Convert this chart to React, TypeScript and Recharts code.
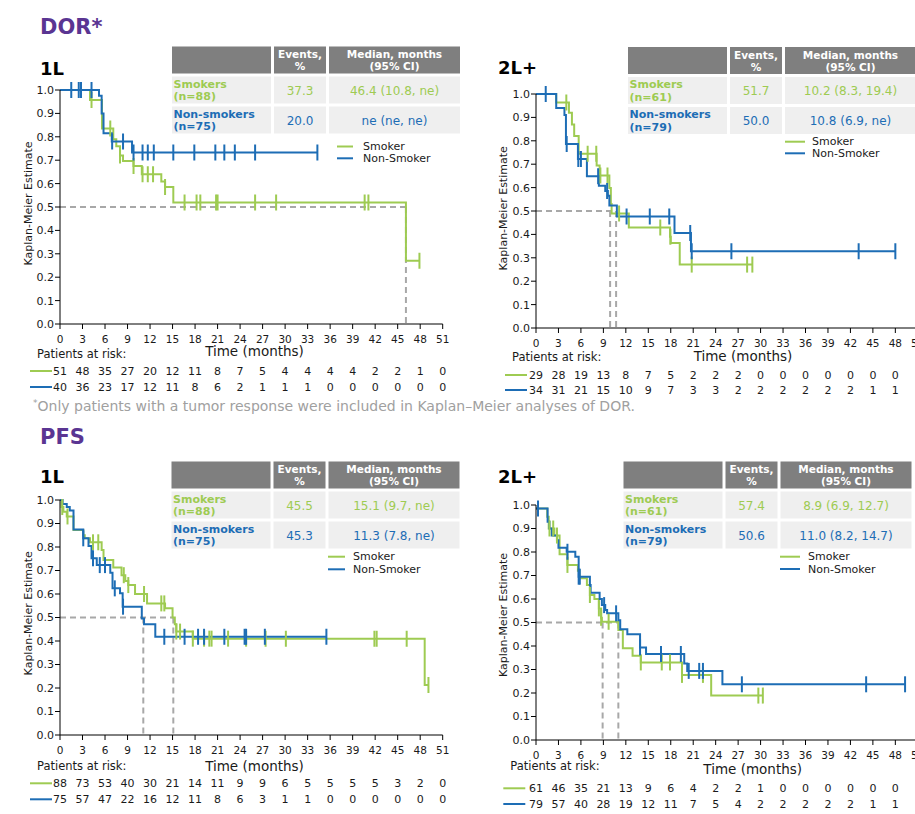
import { ComposedChart, Line, Scatter, XAxis, YAxis } from "recharts";

const GREEN = "#9ecb52";
const BLUE = "#1d6db5";
const PURPLE = "#5a3592";
const DASH = "#a8a8a8";
const INK = "#1a1a1a";
const FONT = "'DejaVu Sans', Verdana, sans-serif";

const X_TICKS = [0, 3, 6, 9, 12, 15, 18, 21, 24, 27, 30, 33, 36, 39, 42, 45, 48, 51];
const Y_TICKS = [0, 0.1, 0.2, 0.3, 0.4, 0.5, 0.6, 0.7, 0.8, 0.9, 1.0];

// DOR, 1L  (time in months, KM estimate)
const dor1lSmoker = [[0, 1], [4.0, 0.957], [5.6, 0.836], [7.1, 0.79], [7.5, 0.76], [8.0, 0.72], [8.4, 0.697], [9.8, 0.675], [10.9, 0.64], [13.5, 0.609], [14.0, 0.585], [15.1, 0.519], [46.1, 0.27], [47.9, 0.27]];
const dor1lSmokerCens = [4.2, 6.7, 8.0, 9.8, 11.0, 11.7, 12.4, 14.0, 16.6, 18.2, 18.7, 20.8, 21.0, 26.0, 28.8, 40.6, 41.1, 47.9];
const dor1lNon = [[0, 1], [5.2, 0.975], [5.55, 0.9], [5.8, 0.815], [6.9, 0.78], [9.6, 0.733], [34.3, 0.733]];
const dor1lNonCens = [1.5, 2.5, 2.8, 4.2, 6.95, 8.4, 9.8, 11.0, 11.7, 12.5, 15.1, 17.9, 20.7, 21.9, 23.3, 26.0, 34.3];
const dor1lMedians = [46.1];
const dor1lRiskSmoker = [51, 48, 35, 27, 20, 12, 11, 8, 7, 5, 4, 4, 4, 4, 2, 2, 1, 0];
const dor1lRiskNon = [40, 36, 23, 17, 12, 11, 8, 6, 2, 1, 1, 1, 0, 0, 0, 0, 0, 0];
const dor1lN = ["88", "75"];
const dor1lEvents = ["37.3", "20.0"];
const dor1lMedianText = ["46.4 (10.8, ne)", "ne (ne, ne)"];

// DOR, 2L+
const dor2lSmoker = [[0, 1], [2.7, 0.964], [4.4, 0.92], [4.8, 0.87], [5.1, 0.82], [5.7, 0.745], [8.1, 0.694], [8.5, 0.652], [9.8, 0.598], [10.0, 0.53], [10.1, 0.489], [12.4, 0.43], [17.9, 0.39], [18.0, 0.363], [19.2, 0.271], [28.9, 0.271]];
const dor2lSmokerCens = [4.05, 6.9, 8.05, 8.6, 9.55, 11.1, 16.6, 17.95, 20.8, 28.2, 28.9];
const dor2lNon = [[0, 1], [2.7, 0.94], [3.8, 0.91], [4.0, 0.786], [5.6, 0.722], [6.8, 0.648], [8.4, 0.608], [9.25, 0.585], [9.6, 0.565], [9.8, 0.523], [10.8, 0.477], [18.5, 0.406], [20.7, 0.328], [48.0, 0.328]];
const dor2lNonCens = [1.3, 4.1, 5.65, 6.0, 8.3, 9.5, 12.1, 15.2, 17.8, 20.6, 20.8, 26.1, 43.1, 48.0];
const dor2lMedians = [9.9, 10.7];
const dor2lRiskSmoker = [29, 28, 19, 13, 8, 7, 5, 2, 2, 2, 0, 0, 0, 0, 0, 0, 0];
const dor2lRiskNon = [34, 31, 21, 15, 10, 9, 7, 3, 3, 2, 2, 2, 2, 2, 2, 1, 1];
const dor2lN = ["61", "79"];
const dor2lEvents = ["51.7", "50.0"];
const dor2lMedianText = ["10.2 (8.3, 19.4)", "10.8 (6.9, ne)"];

// PFS, 1L
const pfs1lSmoker = [[0, 1], [0.2, 0.97], [0.45, 0.95], [0.9, 0.93], [1.8, 0.872], [3.1, 0.85], [3.3, 0.837], [4.0, 0.82], [5.55, 0.787], [5.8, 0.745], [7.1, 0.713], [8.2, 0.68], [8.7, 0.655], [9.1, 0.638], [10.0, 0.6], [11.6, 0.56], [14.0, 0.539], [15.0, 0.5], [15.3, 0.471], [15.5, 0.44], [17.7, 0.41], [48.6, 0.213], [49.1, 0.213]];
const pfs1lSmokerCens = [0.3, 1.0, 4.4, 5.1, 8.5, 9.1, 11.2, 13.5, 13.9, 15.5, 16.0, 17.7, 19.2, 19.9, 20.2, 22.4, 24.8, 27.4, 30.1, 41.9, 42.2, 46.2, 49.1];
const pfs1lNon = [[0, 1], [0.35, 0.983], [0.9, 0.97], [1.3, 0.955], [1.8, 0.875], [3.1, 0.837], [3.8, 0.804], [4.2, 0.752], [4.9, 0.723], [6.7, 0.69], [7.0, 0.624], [8.0, 0.603], [8.35, 0.546], [10.9, 0.496], [11.2, 0.471], [12.7, 0.418], [35.5, 0.418]];
const pfs1lNonCens = [3.1, 4.4, 5.3, 6.0, 7.3, 8.4, 13.9, 16.6, 18.4, 19.2, 21.9, 24.6, 24.8, 27.3, 35.5];
const pfs1lMedians = [11.1, 15.1];
const pfs1lRiskSmoker = [88, 73, 53, 40, 30, 21, 14, 11, 9, 9, 6, 5, 5, 5, 5, 3, 2, 0];
const pfs1lRiskNon = [75, 57, 47, 22, 16, 12, 11, 8, 6, 3, 1, 1, 0, 0, 0, 0, 0, 0];
const pfs1lN = ["88", "75"];
const pfs1lEvents = ["45.5", "45.3"];
const pfs1lMedianText = ["15.1 (9.7, ne)", "11.3 (7.8, ne)"];

// PFS, 2L+
const pfs2lSmoker = [[0, 0.985], [1.5, 0.95], [1.7, 0.9], [2.45, 0.87], [3.15, 0.79], [4.2, 0.745], [5.6, 0.72], [5.8, 0.688], [6.8, 0.66], [7.2, 0.617], [7.8, 0.6], [8.4, 0.56], [8.7, 0.52], [8.8, 0.503], [11.0, 0.468], [11.6, 0.39], [12.9, 0.359], [14.0, 0.33], [19.5, 0.277], [23.4, 0.189], [30.3, 0.189]];
const pfs2lSmokerCens = [1.8, 2.3, 2.8, 4.2, 7.2, 8.4, 8.7, 9.7, 14.0, 16.8, 17.9, 19.5, 22.3, 29.7, 30.3];
const pfs2lNon = [[0, 0.985], [1.55, 0.929], [1.8, 0.9], [2.1, 0.87], [2.8, 0.85], [3.0, 0.818], [4.1, 0.801], [5.25, 0.78], [5.7, 0.695], [7.2, 0.66], [7.3, 0.627], [8.5, 0.6], [8.8, 0.574], [9.25, 0.553], [9.5, 0.539], [11.0, 0.51], [11.25, 0.471], [12.2, 0.45], [13.9, 0.394], [14.7, 0.366], [19.8, 0.326], [20.2, 0.294], [24.9, 0.237], [49.3, 0.237]];
const pfs2lNonCens = [0.27, 4.2, 5.7, 5.85, 9.1, 10.7, 13.9, 16.7, 19.35, 20.4, 21.8, 22.3, 27.5, 44.1, 49.3];
const pfs2lMedians = [8.9, 11.0];
const pfs2lRiskSmoker = [61, 46, 35, 21, 13, 9, 6, 4, 2, 2, 1, 0, 0, 0, 0, 0, 0];
const pfs2lRiskNon = [79, 57, 40, 28, 19, 12, 11, 7, 5, 4, 2, 2, 2, 2, 2, 1, 1];
const pfs2lN = ["61", "79"];
const pfs2lEvents = ["57.4", "50.6"];
const pfs2lMedianText = ["8.9 (6.9, 12.7)", "11.0 (8.2, 14.7)"];

const toPts = (steps) => steps.map(([t, s]) => ({ t, s }));

function survAt(steps, t) {
  let s = steps[0][1];
  for (const [x, y] of steps) if (x <= t) s = y;
  return s;
}

const censPts = (steps, times) => times.map((t) => ({ t, s: survAt(steps, t) }));

function tickMark(color) {
  return (p) => (
    <line x1={p.cx} x2={p.cx} y1={p.cy - 8} y2={p.cy + 8} stroke={color} strokeWidth={2} />
  );
}

function RiskTick(props) {
  const { x, y, payload, rows, offs } = props;
  const i = X_TICKS.indexOf(payload.value);
  const base = y - 5;
  return (
    <g fontFamily={FONT} fill={INK}>
      <text x={x} y={base + 14.5} textAnchor="middle" dominantBaseline="central" fontSize={10.5}>
        {payload.value}
      </text>
      {rows.map((r, k) =>
        i < r.length ? (
          <text key={k} x={x} y={base + offs[k]} textAnchor="middle" dominantBaseline="central" fontSize={11}>
            {r[i]}
          </text>
        ) : null
      )}
    </g>
  );
}

function KMChart({ left, top, height, right, smoker, smokerCens, non, nonCens, medians, risk, offs }) {
  const maxMed = Math.max(...medians);
  return (
    <div style={{ position: "absolute", left, top }}>
      <ComposedChart width={460} height={height} margin={{ top: 10, right, bottom: 4, left: 15 }}>
        <XAxis
          type="number"
          dataKey="t"
          domain={[0, 51]}
          ticks={X_TICKS}
          interval={0}
          allowDataOverflow
          height={70}
          tickSize={5}
          tickMargin={0}
          axisLine={{ stroke: "#000" }}
          tickLine={{ stroke: "#000" }}
          tick={(p) => <RiskTick {...p} rows={risk} offs={offs} />}
        />
        <YAxis
          type="number"
          dataKey="s"
          domain={[0, 1]}
          ticks={Y_TICKS}
          interval={0}
          width={45}
          tickSize={5}
          tickMargin={1}
          tickFormatter={(v) => v.toFixed(1)}
          axisLine={{ stroke: "#000" }}
          tickLine={{ stroke: "#000" }}
          tick={{ fill: INK, fontSize: 11, fontFamily: FONT }}
        />
        <Line
          data={[{ t: 0, s: 0.5 }, { t: maxMed, s: 0.5 }]}
          dataKey="s"
          type="linear"
          stroke={DASH}
          strokeWidth={2}
          strokeDasharray="6 4"
          dot={false}
          activeDot={false}
          isAnimationActive={false}
        />
        {medians.map((m) => (
          <Line
            key={"m" + m}
            data={[{ t: m, s: 0.5 }, { t: m, s: 0 }]}
            dataKey="s"
            type="linear"
            stroke={DASH}
            strokeWidth={2}
            strokeDasharray="6 4"
            dot={false}
            activeDot={false}
            isAnimationActive={false}
          />
        ))}
        <Line data={toPts(smoker)} dataKey="s" type="stepAfter" stroke={GREEN} strokeWidth={2} dot={false} activeDot={false} isAnimationActive={false} />
        <Scatter data={censPts(smoker, smokerCens)} dataKey="s" shape={tickMark(GREEN)} isAnimationActive={false} />
        <Line data={toPts(non)} dataKey="s" type="stepAfter" stroke={BLUE} strokeWidth={2} dot={false} activeDot={false} isAnimationActive={false} />
        <Scatter data={censPts(non, nonCens)} dataKey="s" shape={tickMark(BLUE)} isAnimationActive={false} />
      </ComposedChart>
    </div>
  );
}

function StatTable({ x, y, n, events, medians }) {
  const cw = [99, 52, 131];
  const gap = 3;
  const h = 27;
  const cx = [x, x + cw[0] + gap, x + cw[0] + cw[1] + 2 * gap];
  const mid = (i) => cx[i] + cw[i] / 2;
  const colors = [GREEN, BLUE];
  const labels = ["Smokers", "Non-smokers"];
  return (
    <g fontFamily={FONT}>
      {cw.map((w, i) => (
        <rect key={i} x={cx[i]} y={y} width={w} height={h} fill="#7f7f7f" />
      ))}
      <g fill="#fff" fontWeight="bold" fontSize={10.5} textAnchor="middle">
        <text x={mid(1)} y={y + 11.5}>Events,</text>
        <text x={mid(1)} y={y + 23.5}>%</text>
        <text x={mid(2)} y={y + 11.5}>Median, months</text>
        <text x={mid(2)} y={y + 23.5}>(95% CI)</text>
      </g>
      {[0, 1].map((r) => {
        const ry = y + (h + gap) * (r + 1);
        return (
          <g key={r} fill={colors[r]}>
            {cw.map((w, i) => (
              <rect key={i} x={cx[i]} y={ry} width={w} height={h} fill="#efefef" />
            ))}
            <text x={cx[0] + 1.5} y={ry + 11} fontWeight="bold" fontSize={11}>{labels[r]}</text>
            <text x={cx[0] + 1.5} y={ry + 23.5} fontWeight="bold" fontSize={11}>(n={n[r]})</text>
            <text x={mid(1)} y={ry + 18} fontSize={12} textAnchor="middle">{events[r]}</text>
            <text x={mid(2)} y={ry + 18} fontSize={12} textAnchor="middle">{medians[r]}</text>
          </g>
        );
      })}
    </g>
  );
}

function KeyBox({ x1, x2, tx, y1, y2 }) {
  return (
    <g fontFamily={FONT} fontSize={11} fill={INK}>
      <line x1={x1} x2={x2} y1={y1} y2={y1} stroke={GREEN} strokeWidth={2} />
      <line x1={x1} x2={x2} y1={y2} y2={y2} stroke={BLUE} strokeWidth={2} />
      <text x={tx} y={y1} dominantBaseline="central">Smoker</text>
      <text x={tx} y={y2} dominantBaseline="central">Non-Smoker</text>
    </g>
  );
}

function RiskKey({ x, py, y1, y2 }) {
  return (
    <g fontFamily={FONT} fill={INK}>
      <text x={x + 7} y={py} fontSize={11.5}>Patients at risk:</text>
      <line x1={x} x2={x + 22} y1={y1} y2={y1} stroke={GREEN} strokeWidth={2} />
      <line x1={x} x2={x + 22} y1={y2} y2={y2} stroke={BLUE} strokeWidth={2} />
    </g>
  );
}

function YTitle({ x, y }) {
  return (
    <text x={x} y={y} transform={`rotate(-90 ${x} ${y})`} textAnchor="middle" dominantBaseline="central" fontFamily={FONT} fontSize={11} fill={INK}>
      Kaplan-Meier Estimate
    </text>
  );
}

function XTitle({ x, y }) {
  return (
    <text x={x} y={y} textAnchor="middle" fontFamily={FONT} fontSize={13.5} fill={INK}>
      Time (months)
    </text>
  );
}

export default function App() {
  return (
    <div style={{ position: "absolute", left: 0, top: 0, width: 915, height: 814, overflow: "hidden", background: "#fff" }}>
      <KMChart left={0} top={80} height={318} right={17.3} smoker={dor1lSmoker} smokerCens={dor1lSmokerCens} non={dor1lNon} nonCens={dor1lNonCens} medians={dor1lMedians} risk={[dor1lRiskSmoker, dor1lRiskNon]} offs={[47, 63]} />
      <KMChart left={476} top={84} height={318} right={18.2} smoker={dor2lSmoker} smokerCens={dor2lSmokerCens} non={dor2lNon} nonCens={dor2lNonCens} medians={dor2lMedians} risk={[dor2lRiskSmoker, dor2lRiskNon]} offs={[47, 62]} />
      <KMChart left={0} top={490} height={319} right={17.3} smoker={pfs1lSmoker} smokerCens={pfs1lSmokerCens} non={pfs1lNon} nonCens={pfs1lNonCens} medians={pfs1lMedians} risk={[pfs1lRiskSmoker, pfs1lRiskNon]} offs={[48.3, 64.3]} />
      <KMChart left={476} top={495} height={319} right={18.2} smoker={pfs2lSmoker} smokerCens={pfs2lSmokerCens} non={pfs2lNon} nonCens={pfs2lNonCens} medians={pfs2lMedians} risk={[pfs2lRiskSmoker, pfs2lRiskNon]} offs={[48.3, 64]} />

      <svg width={915} height={814} style={{ position: "absolute", left: 0, top: 0, pointerEvents: "none" }}>
        <g fontFamily={FONT} fontWeight="bold">
          <text x={40} y={34} fontSize={21} fill={PURPLE}>DOR*</text>
          <text x={40} y={444} fontSize={21} fill={PURPLE}>PFS</text>
          <text x={40} y={75} fontSize={18} fill="#000">1L</text>
          <text x={498} y={73.5} fontSize={18} fill="#000">2L+</text>
          <text x={40} y={483.3} fontSize={18} fill="#000">1L</text>
          <text x={498} y={483} fontSize={18} fill="#000">2L+</text>
        </g>

        <StatTable x={172} y={46.5} n={dor1lN} events={dor1lEvents} medians={dor1lMedianText} />
        <StatTable x={628} y={47} n={dor2lN} events={dor2lEvents} medians={dor2lMedianText} />
        <StatTable x={171.5} y={461.5} n={pfs1lN} events={pfs1lEvents} medians={pfs1lMedianText} />
        <StatTable x={623.5} y={461.5} n={pfs2lN} events={pfs2lEvents} medians={pfs2lMedianText} />

        <KeyBox x1={337} x2={353} tx={363} y1={146.5} y2={158.3} />
        <KeyBox x1={785} x2={805} tx={812} y1={141.7} y2={153.3} />
        <KeyBox x1={328} x2={345} tx={353} y1={556.7} y2={569.3} />
        <KeyBox x1={780} x2={800} tx={808} y1={556.7} y2={569} />

        <YTitle x={28} y={203.5} />
        <YTitle x={503.3} y={208.3} />
        <YTitle x={28.3} y={613.3} />
        <YTitle x={503.3} y={615} />

        <XTitle x={254.5} y={356} />
        <XTitle x={743} y={361} />
        <XTitle x={254.5} y={770.5} />
        <XTitle x={752.7} y={774} />

        <RiskKey x={30} py={358.3} y1={371} y2={387} />
        <RiskKey x={505} py={361} y1={375} y2={390} />
        <RiskKey x={30} py={770} y1={783.3} y2={799.3} />
        <RiskKey x={503.3} py={770} y1={788.3} y2={804} />

        <text x={33} y={410.5} fontFamily={FONT} fontSize={14} fill="#a0a0a0">
          <tspan fontSize={9} dy={-5}>*</tspan>
          <tspan dy={5}>Only patients with a tumor response were included in Kaplan–Meier analyses of DOR.</tspan>
        </text>
      </svg>
    </div>
  );
}
